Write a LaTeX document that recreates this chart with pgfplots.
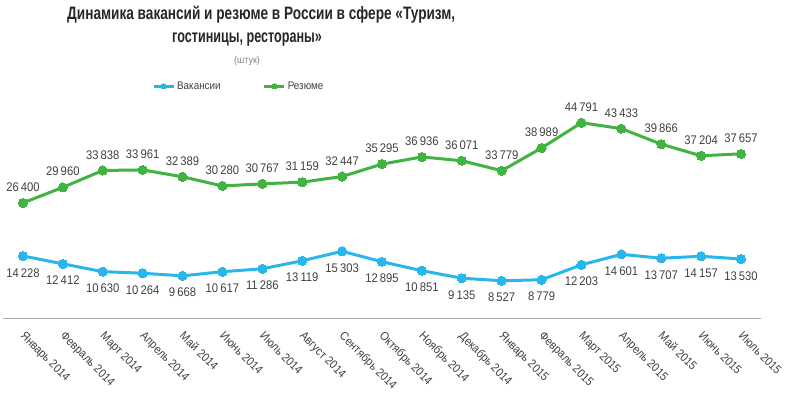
\documentclass[border=0pt]{standalone}
\usepackage{pgfplots}
\pgfplotsset{compat=1.18}
\usepackage{fontspec}
\setmainfont{Liberation Sans}
\newfontfamily\titlefonta[FakeStretch=0.757]{Liberation Sans}
\newfontfamily\titlefontb[FakeStretch=0.70]{Liberation Sans}
\newfontfamily\lblfont[FakeStretch=0.9]{Liberation Sans}
\definecolor{vblue}{RGB}{41,182,236}
\definecolor{rgreen}{RGB}{66,178,66}
\definecolor{txt}{RGB}{64,64,64}
\begin{document}
\begin{tikzpicture}[x=1pt,y=1pt]
\useasboundingbox (0,0) rectangle (790,395);
\node[font=\titlefonta\bfseries\fontsize{18}{22}\selectfont, text=black!85, anchor=west, inner sep=0pt] at (67,380) {Динамика вакансий и резюме в России в сфере «Туризм,};
\node[font=\titlefontb\bfseries\fontsize{18}{22}\selectfont, text=black!85, anchor=west, inner sep=0pt] at (172,355) {гостиницы, рестораны»};
\node[font=\lblfont\fontsize{10}{12}\selectfont, text=gray] at (247,334) {(штук)};
\begin{axis}[
  at={(3pt,77pt)}, anchor=south west, scale only axis,
  width=758pt, height=218pt,
  xmin=-0.5, xmax=18.5, ymin=0, ymax=50000,
  axis y line=none, axis x line*=bottom,
  x axis line style={-, draw=gray!70, line width=0.8pt},
  ytick=\empty,
  xtick={0,...,18},
  xticklabels={Январь 2014, Февраль 2014, Март 2014, Апрель 2014, Май 2014, Июнь 2014, Июль 2014, Август 2014, Сентябрь 2014, Октябрь 2014, Ноябрь 2014, Декабрь 2014, Январь 2015, Февраль 2015, Март 2015, Апрель 2015, Май 2015, Июнь 2015, Июль 2015},
  major tick length=0pt,
  xticklabel style={yshift=-11pt, xshift=3pt, rotate=-45, anchor=north west, font=\lblfont\fontsize{12}{14}\selectfont, text=txt, inner sep=1pt},
  clip=false,
  nodes near coords={\pgfmathprintnumber[fixed,precision=0,1000 sep={\,},assume math mode=true]{\pgfplotspointmeta}},
  every node near coord/.append style={font=\lblfont\fontsize{12.5}{14}\selectfont, text=txt},
  legend style={at={(0.311,1.062)}, anchor=center, draw=none, fill=none, legend columns=2, font=\lblfont\fontsize{11}{13}\selectfont, text=txt, /tikz/every even column/.append style={column sep=40pt}},
  legend image code/.code={\draw[mark repeat=2,mark phase=2,#1, mark size=2.5pt] plot coordinates {(0pt,0pt) (10pt,0pt) (20pt,0pt)};},
]
\addplot[vblue, line width=3pt, mark=*, mark size=4.6pt, mark options={solid, fill=vblue, line width=0pt},
  every node near coord/.append style={anchor=north, yshift=-9pt}]
coordinates {(0,14228) (1,12412) (2,10630) (3,10264) (4,9668) (5,10617) (6,11286) (7,13119) (8,15303) (9,12895) (10,10851) (11,9135) (12,8527) (13,8779) (14,12203) (15,14601) (16,13707) (17,14157) (18,13530)};
\addlegendentry{Вакансии}
\addplot[rgreen, line width=3pt, mark=*, mark size=4.6pt, mark options={solid, fill=rgreen, line width=0pt},
  every node near coord/.append style={anchor=south, yshift=8pt}]
coordinates {(0,26400) (1,29960) (2,33838) (3,33961) (4,32389) (5,30280) (6,30767) (7,31159) (8,32447) (9,35295) (10,36936) (11,36071) (12,33779) (13,38989) (14,44791) (15,43433) (16,39866) (17,37204) (18,37657)};
\addlegendentry{Резюме}
\end{axis}
\end{tikzpicture}
\end{document}
